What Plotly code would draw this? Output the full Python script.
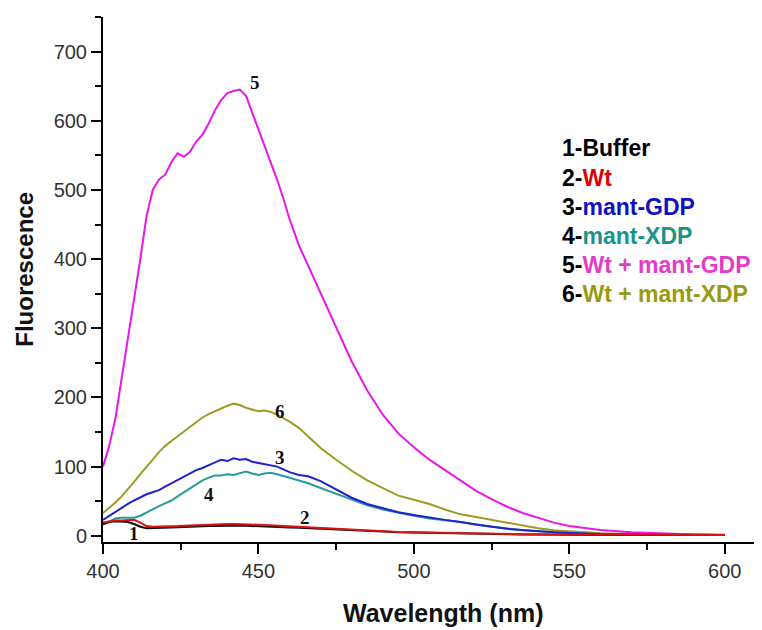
import plotly.graph_objects as go

# wavelength grid (nm)
wavelength = [400, 402, 404, 406, 408, 410, 412, 414, 416, 418, 420, 422, 424, 426, 428,
              430, 432, 434, 436, 438, 440, 442, 444, 446, 448, 450, 452, 454, 456, 458,
              460, 463, 466, 470, 475, 480, 485, 490, 495, 500, 505, 510, 515, 520, 525,
              530, 535, 540, 545, 550, 555, 560, 570, 580, 590, 600]

buffer_1 = [17, 20, 21, 21, 20, 17, 13, 11, 11, 11.5, 12, 12, 12.5, 13, 13,
            13.5, 14, 14, 14, 14.5, 15, 15, 15, 14.5, 14, 14, 13.5, 13, 13, 12.5,
            12, 11.5, 11, 10, 9, 8, 7, 6, 5, 4.5, 4, 3.5, 3, 3, 2.5,
            2.5, 2, 2, 1.5, 1.5, 1.5, 1, 1, 1, 1, 1]

wt_2 = [19, 21, 22, 22, 23, 23, 19, 14, 13, 13, 13.5, 14, 14, 14.5, 15,
        15, 15.5, 16, 16, 16.5, 17, 17, 17, 16.5, 16, 16, 15.5, 15, 15, 14,
        13.5, 13, 12, 11, 10, 8.5, 7.5, 6.5, 5.5, 5, 4.5, 4, 3.5, 3, 3,
        2.5, 2.5, 2, 2, 2, 1.5, 1.5, 1.5, 1, 1, 1]

mant_gdp_3 = [23, 29, 35, 41, 46, 51, 56, 60, 63, 66, 71, 76, 81, 86, 90,
              95, 98, 102, 106, 110, 108, 112, 110, 111, 107, 105, 103, 101, 100, 96,
              92, 88, 86, 79, 67, 55, 46, 40, 34, 30, 26, 23, 20, 16, 13,
              10, 8, 7, 5, 4, 3, 2.5, 2, 1.5, 1, 1]

mant_xdp_4 = [16, 21, 25, 26, 26, 26, 29, 33, 38, 43, 47, 51, 57, 63, 69,
              75, 80, 84, 87, 87, 89, 88, 91, 93, 90, 88, 90, 91, 89, 87,
              84, 80, 76, 69, 61, 52, 44, 38, 33, 29, 25, 23, 20, 16, 13,
              10, 8, 6.5, 5, 4, 3, 2.5, 2, 1.5, 1, 1]

wt_gdp_5 = [100, 130, 170, 227, 285, 340, 400, 462, 500, 515, 522, 540, 553, 548, 555,
            570, 580, 596, 615, 630, 640, 643, 645, 636, 612, 588, 565, 540, 515, 488,
            458, 420, 390, 350, 300, 252, 210, 175, 148, 128, 110, 95, 81, 65, 53,
            42, 33, 26, 19, 14, 11, 8.5, 5, 3, 2, 1.5]

wt_xdp_6 = [33, 40, 48, 57, 67, 78, 89, 99, 110, 121, 130, 137, 144, 151, 158,
            165, 171, 176, 180, 185, 188, 191, 189, 185, 182, 180, 181, 179, 175, 170,
            165, 156, 144, 127, 110, 94, 80, 69, 58, 52, 46, 38, 31, 27, 23,
            19, 14, 11, 8, 6.5, 5, 3.5, 2.5, 2, 1.5, 1]

series = [
    ('Wt + mant-XDP', wt_xdp_6, '#9c9c22'),
    ('Wt + mant-GDP', wt_gdp_5, '#e818e8'),
    ('mant-XDP', mant_xdp_4, '#279c98'),
    ('mant-GDP', mant_gdp_3, '#2222cc'),
    ('Buffer', buffer_1, '#111111'),
    ('Wt', wt_2, '#dd1111'),
]

# curve number labels: (text, wavelength, fluorescence)
curve_labels = [('5', 449, 656), ('6', 457, 179), ('3', 457, 113),
                ('4', 434, 59), ('2', 465, 27), ('1', 410, 3)]

legend_names = ['Buffer', 'Wt', 'mant-GDP', 'mant-XDP', 'Wt + mant-GDP', 'Wt + mant-XDP']
legend_colors = ['#000000', '#e00000', '#1010c0', '#1a9488', '#e43cc4', '#9a9a10']

fig = go.Figure()

for name, vals, color in series:
    fig.add_trace(go.Scatter(
        x=wavelength, y=vals, mode='lines', name=name,
        line=dict(color=color, width=2)
    ))

for txt, wx, fy in curve_labels:
    fig.add_annotation(x=wx, y=fy, text='<b>%s</b>' % txt, showarrow=False,
                       font=dict(family='Liberation Serif, Times New Roman, serif',
                                 size=19, color='#111111'))

# colored text legend
leg_y = [0.750, 0.694, 0.638, 0.582, 0.527, 0.472]
for i, (nm, col) in enumerate(zip(legend_names, legend_colors)):
    fig.add_annotation(
        xref='paper', yref='paper', x=0.698, y=leg_y[i],
        xanchor='left', yanchor='middle', showarrow=False,
        text='<b>%d-<span style="color:%s">%s</span></b>' % (i + 1, col, nm),
        font=dict(family='Arial, Liberation Sans, sans-serif', size=23, color='#000000')
    )

# axis titles
fig.add_annotation(xref='paper', yref='paper', x=0.519, y=-0.135, showarrow=False,
                   text='<b>Wavelength (nm)</b>', xanchor='center', yanchor='middle',
                   font=dict(family='Arial, Liberation Sans, sans-serif', size=25, color='#111111'))
fig.add_annotation(xref='paper', yref='paper', x=-0.121, y=0.52, showarrow=False,
                   text='<b>Fluorescence</b>', textangle=-90, xanchor='center', yanchor='middle',
                   font=dict(family='Arial, Liberation Sans, sans-serif', size=24, color='#111111'))

axis_font = dict(family='Arial, Liberation Sans, sans-serif', size=20, color='#333333')

fig.update_xaxes(
    range=[400, 610.7], tickvals=[400, 450, 500, 550, 600],
    showline=True, linecolor='black', linewidth=2,
    ticks='outside', ticklen=10, tickwidth=2, tickcolor='black',
    minor=dict(dtick=25, tick0=400, ticks='outside', ticklen=6, tickwidth=2, tickcolor='black'),
    showgrid=False, zeroline=False, tickfont=axis_font
)
fig.update_yaxes(
    range=[-9, 750], tickvals=[0, 100, 200, 300, 400, 500, 600, 700],
    showline=True, linecolor='black', linewidth=2,
    ticks='outside', ticklen=10, tickwidth=2, tickcolor='black',
    minor=dict(dtick=50, tick0=0, ticks='outside', ticklen=6, tickwidth=2, tickcolor='black'),
    showgrid=False, zeroline=False, tickfont=axis_font
)

# page body adds an 8px offset, so margins are shifted to compensate
fig.update_layout(
    width=762, height=630,
    margin=dict(l=95, r=12, t=9, b=96),
    plot_bgcolor='white', paper_bgcolor='white',
    showlegend=False
)

fig.write_html("out.html")
